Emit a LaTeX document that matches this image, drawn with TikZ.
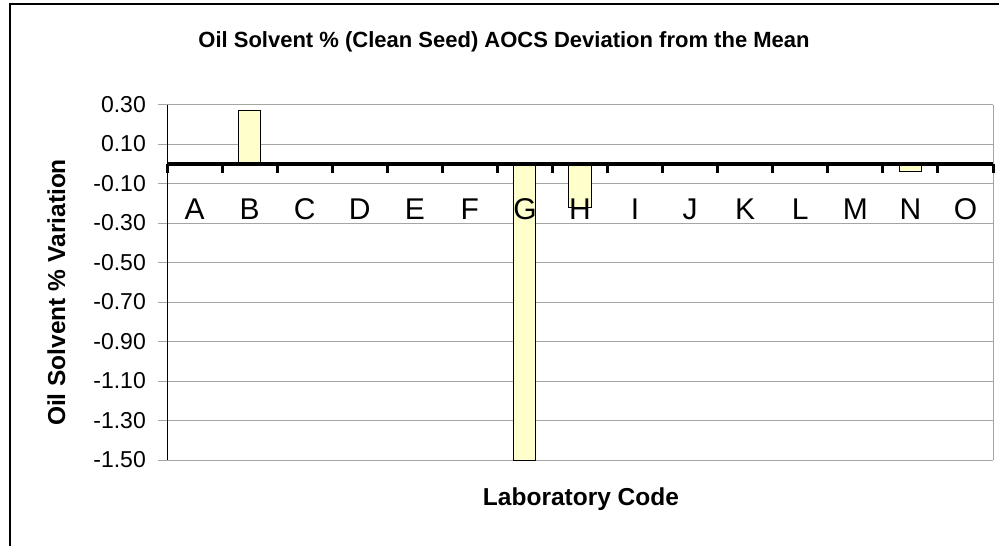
\documentclass[tikz,border=0pt]{standalone}
\usepackage{fontspec}
\setmainfont{Liberation Sans}

\definecolor{barfill}{RGB}{255,255,204}
\definecolor{gridgray}{RGB}{165,165,165}

\tikzset{
  gridline/.style={draw=gridgray, line width=1pt},
  bar/.style={draw=black, fill=barfill, line width=1pt},
  ticklabel/.style={anchor=east, inner sep=0pt, font=\fontsize{23}{27}\selectfont},
  catlabel/.style={anchor=base, inner sep=0pt, font=\fontsize{30}{35}\selectfont},
  axistitle/.style={anchor=base, inner sep=0pt, font=\bfseries\fontsize{24.5}{29}\selectfont},
}

\begin{document}
\begin{tikzpicture}[x=1pt, y=-1pt]
  \useasboundingbox (0,0) rectangle (999,546);
  \clip (0,0) rectangle (999,546);

  % outer frame
  \draw[line width=2pt] (9.5,4) rectangle (1010,560);

  \node (title) [anchor=base, inner sep=0pt, font=\bfseries\fontsize{22}{26}\selectfont]
    at (504,47) {Oil Solvent \% (Clean Seed) AOCS Deviation from the Mean};
  \node (ytitle) [axistitle, rotate=90] at (65,292.5) {Oil Solvent \% Variation};
  \node (xtitle) [axistitle] at (581,505) {Laboratory Code};

  \begin{scope}[shift={(167,163.75)}, x=55.067pt, y=197.5pt]

    % grid and value labels
    \foreach \v [count=\k] in {0.30,0.10,-0.10,-0.30,-0.50,-0.70,-0.90,-1.10,-1.30,-1.50} {
      \draw[gridline] (-0.163,\v) -- (15,\v);
      \node[ticklabel] (ylab\k) at (-0.381,\v) {\v};
    }
    \draw[gridline] (15,0.30) -- (15,-1.50);
    \draw[line width=1pt] (0,0.30) -- (0,-1.50);

    % bars
    \foreach \i/\v in {1/0.27, 6/-1.50, 7/-0.22, 13/-0.04}
      \draw[bar] (\i+0.3,0) rectangle (\i+0.7,\v);

    % zero line with ticks
    \draw[line width=4.5pt] (0,0) -- (15,0);
    \foreach \i in {0,...,15}
      \draw[line width=3pt] (\i,0) -- (\i,-0.045);

    % laboratory codes
    \foreach \c [count=\i from 0] in {A,...,O}
      \node[catlabel] (cat\c) at (\i+0.5,-0.28) {\c};
  \end{scope}
\end{tikzpicture}
\end{document}
